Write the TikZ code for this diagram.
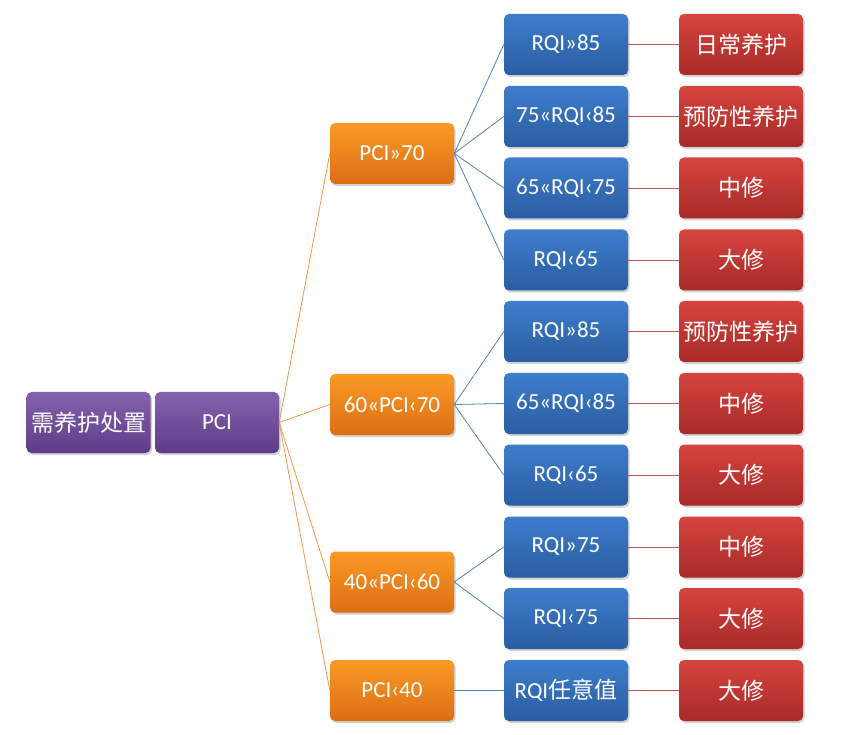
\documentclass[tikz,border=0pt]{standalone}
\usepackage{fontspec}
\setmainfont{Carlito}
\newfontfamily\cjk{Noto Sans CJK SC}
\usetikzlibrary{shadows}
\definecolor{purT}{HTML}{8462AC}
\definecolor{purB}{HTML}{5E3C88}
\definecolor{orT}{HTML}{FA9A26}
\definecolor{orB}{HTML}{DC6E14}
\definecolor{blT}{HTML}{3E7DCB}
\definecolor{blB}{HTML}{2A5DA2}
\definecolor{rdT}{HTML}{D6443F}
\definecolor{rdB}{HTML}{A82A27}
\definecolor{orL}{HTML}{F79646}
\definecolor{blL}{HTML}{4F81BD}
\definecolor{rdL}{HTML}{C0504D}
\tikzset{
  box/.style={rounded corners=5pt, minimum width=124pt, minimum height=61pt,
    inner sep=0pt, text=white, font=\fontsize{23}{25}\selectfont,
    drop shadow={shadow xshift=1.5pt, shadow yshift=-2pt, opacity=0.35}},
  purbox/.style={box, top color=purT, bottom color=purB},
  orbox/.style={box, top color=orT, bottom color=orB},
  blbox/.style={box, top color=blT, bottom color=blB},
  rdbox/.style={box, top color=rdT, bottom color=rdB},
  cj/.style={font=\cjk\fontsize{23}{25}\selectfont},
  olink/.style={draw=orL, line width=0.8pt},
  blink/.style={draw=blL, line width=0.8pt},
  rlink/.style={draw=rdL, line width=0.8pt},
}
\begin{document}
\begin{tikzpicture}[x=1pt,y=1pt]
\useasboundingbox[fill=white] (0,0) rectangle (852,-735);
% left
\node[purbox, cj] (root) at (88.5,-422.5) {需养护处置};
\node[purbox] (pci) at (217,-422.5) {PCI};
% orange
\node[orbox] (o1) at (392,-153.5) {PCI»70};
\node[orbox] (o2) at (392,-404.5) {60«PCI‹70};
\node[orbox] (o3) at (392,-582) {40«PCI‹60};
\node[orbox] (o4) at (392,-690.5) {PCI‹40};
% blue
\node[blbox] (b1) at (566,-44.5) {RQI»85};
\node[blbox] (b2) at (566,-116.5) {75«RQI‹85};
\node[blbox] (b3) at (566,-188) {65«RQI‹75};
\node[blbox] (b4) at (566,-260) {RQI‹65};
\node[blbox] (b5) at (566,-331.5) {RQI»85};
\node[blbox] (b6) at (566,-403.5) {65«RQI‹85};
\node[blbox] (b7) at (566,-475) {RQI‹65};
\node[blbox] (b8) at (566,-547) {RQI»75};
\node[blbox] (b9) at (566,-618.5) {RQI‹75};
\node[blbox] (b10) at (566,-690.5) {RQI{\cjk\fontsize{23}{25}\selectfont 任意值}};
% red
\node[rdbox, cj] (r1) at (741,-44.5) {日常养护};
\node[rdbox, cj] (r2) at (741,-116.5) {预防性养护};
\node[rdbox, cj] (r3) at (741,-188) {中修};
\node[rdbox, cj] (r4) at (741,-260) {大修};
\node[rdbox, cj] (r5) at (741,-331.5) {预防性养护};
\node[rdbox, cj] (r6) at (741,-403.5) {中修};
\node[rdbox, cj] (r7) at (741,-475) {大修};
\node[rdbox, cj] (r8) at (741,-547) {中修};
\node[rdbox, cj] (r9) at (741,-618.5) {大修};
\node[rdbox, cj] (r10) at (741,-690.5) {大修};
% links
\foreach \o in {o1,o2,o3,o4} \draw[olink] (pci.east) -- (\o.west);
\foreach \b in {b1,b2,b3,b4} \draw[blink] (o1.east) -- (\b.west);
\foreach \b in {b5,b6,b7} \draw[blink] (o2.east) -- (\b.west);
\foreach \b in {b8,b9} \draw[blink] (o3.east) -- (\b.west);
\draw[blink] (o4.east) -- (b10.west);
\foreach \i in {1,...,10} \draw[rlink] (b\i.east) -- (r\i.west);
\end{tikzpicture}
\end{document}
